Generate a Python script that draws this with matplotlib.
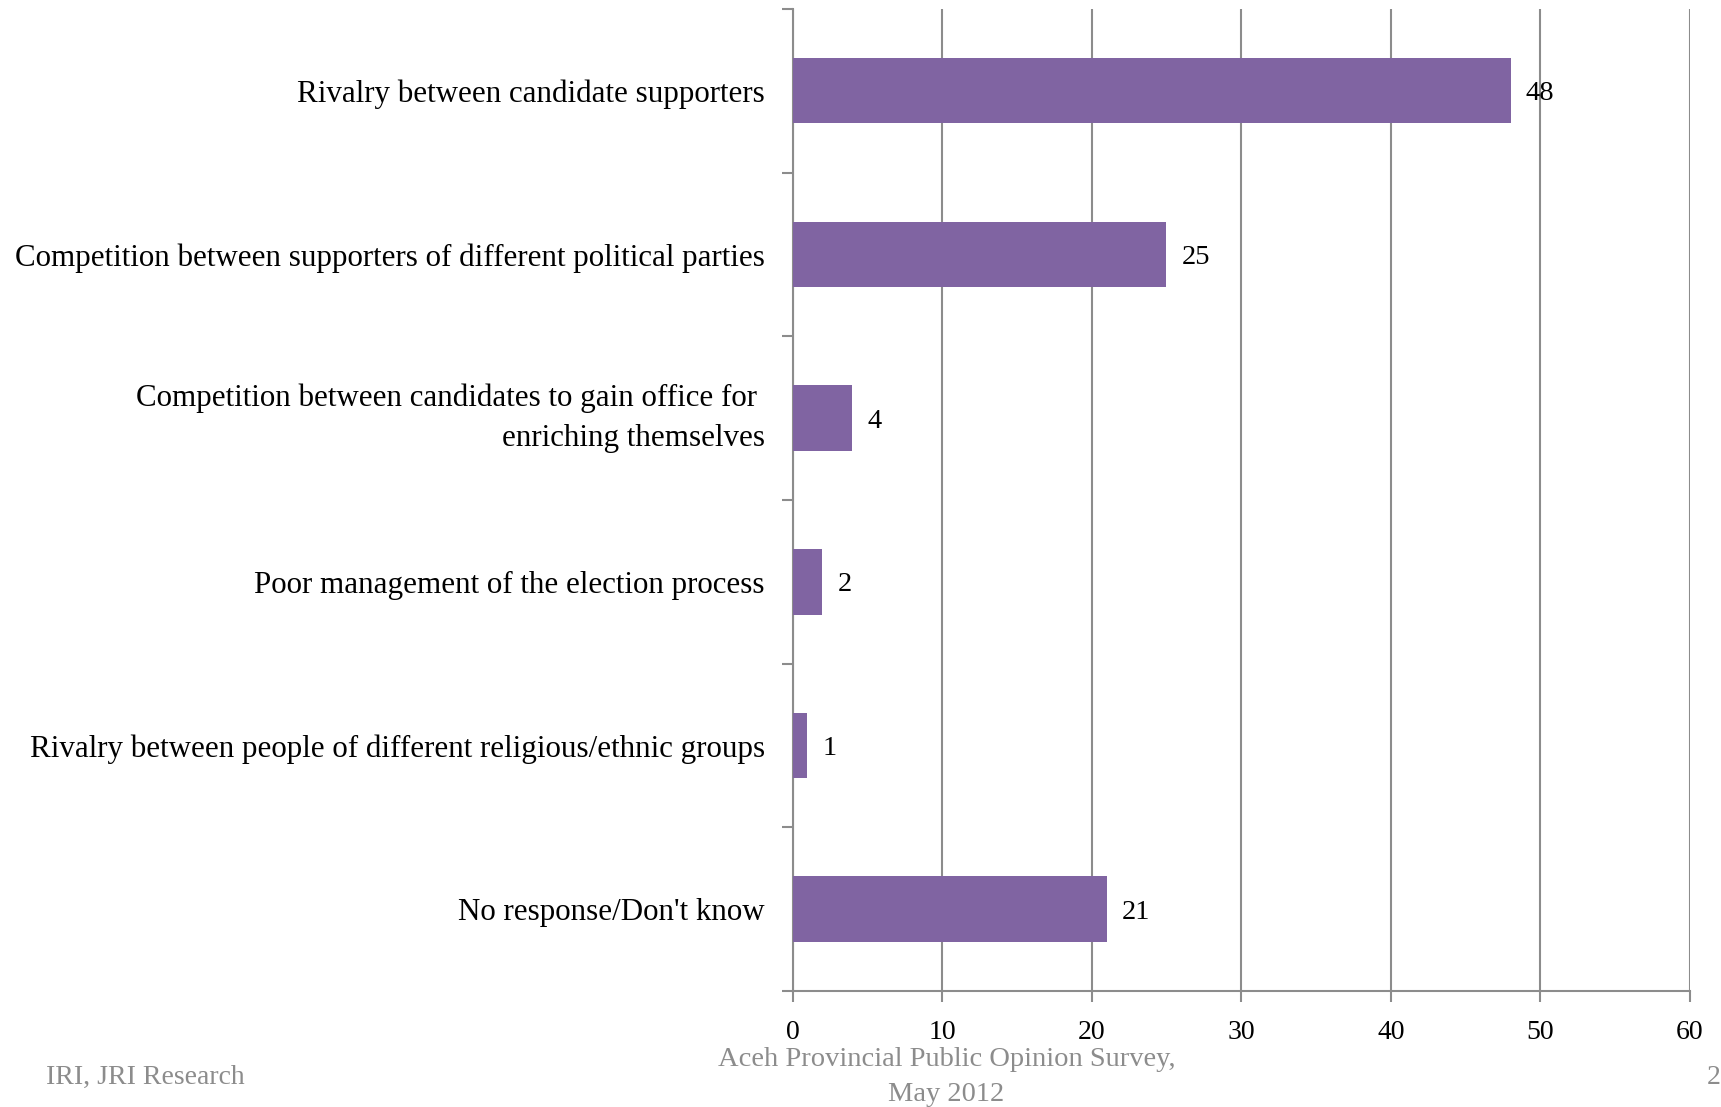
import matplotlib
matplotlib.use('Agg')
from matplotlib import pyplot as plt
from matplotlib import rcParams

rcParams['font.family'] = ['Liberation Serif', 'DejaVu Serif']

categories = ['Rivalry between candidate supporters',
              'Competition between supporters of different political parties',
              'Competition between candidates to gain office for \nenriching themselves',
              'Poor management of the election process',
              'Rivalry between people of different religious/ethnic groups',
              "No response/Don't know"]
values = [48, 25, 4, 2, 1, 21]
xticks = [0, 10, 20, 30, 40, 50, 60]

bar_color = '#8064A2'
grid_color = '#8C8C8C'

fig = plt.figure(figsize=(17.21, 11.07), dpi=100)
ax = fig.add_axes([0.4605, 0.1048, 0.982 - 0.4605, 0.992 - 0.1048])

ypos = list(range(len(categories)))
ax.barh(ypos, values, height=0.4, color=bar_color, zorder=3)
for y, v in zip(ypos, values):
    ax.text(v + 1.0, y, str(v), va='center_baseline', ha='left', fontsize=20.5, zorder=4)

ax.set_xlim(0, 60)
ax.set_ylim(5.5, -0.5)
ax.set_xticks(xticks)
ax.set_xticklabels([str(t) for t in xticks], fontsize=20)

# category ticks sit between bars
ax.set_yticks([i - 0.5 for i in range(len(categories) + 1)])
ax.set_yticklabels([])
ax.set_yticks(ypos, minor=True)
labs = ax.set_yticklabels(categories, minor=True, fontsize=22.3, ha='right',
                          linespacing=1.5, va='center_baseline')
for t in labs:
    if '\n' in t.get_text():
        t.set_va('center')
ax.tick_params(axis='y', which='minor', length=0, pad=20)
ax.tick_params(axis='y', which='major', length=8, width=1.5, color=grid_color, direction='out')
ax.tick_params(axis='x', length=8, width=1.5, color=grid_color, direction='out', pad=13)

ax.xaxis.grid(True, color=grid_color, linewidth=1.5, zorder=0)
ax.set_axisbelow(True)
for s in ['top', 'right']:
    ax.spines[s].set_visible(False)
for s in ['left', 'bottom']:
    ax.spines[s].set_color(grid_color)
    ax.spines[s].set_linewidth(1.5)

foot = '#8C8C8C'
fy = 1 - 1077 / 1107
fig.text(0.0268, fy, 'IRI, JRI Research', fontsize=20, color=foot, va='center', ha='left')
fig.text(0.55, fy, 'Aceh Provincial Public Opinion Survey,\nMay 2012', fontsize=20.5,
         color=foot, va='center', ha='center', linespacing=1.55)
fig.text(0.9915, fy, '2', fontsize=20, color=foot, va='center', ha='left')

fig.savefig('out.png', dpi=100)
